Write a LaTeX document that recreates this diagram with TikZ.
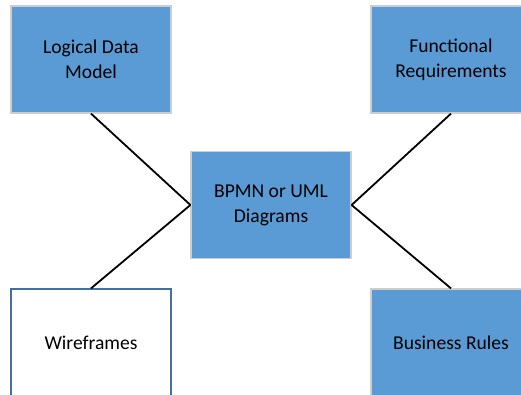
\documentclass[tikz,border=0pt]{standalone}
\usepackage{fontspec}
\setmainfont{Carlito}
\usepackage{tikz}
\usetikzlibrary{positioning}
\definecolor{officeblue}{RGB}{91, 155, 213}
\definecolor{steelblue}{RGB}{65, 113, 156}
\definecolor{rimgray}{RGB}{205, 205, 205}
\tikzset{
    topic/.style={draw=rimgray, line width=1.2pt, fill=officeblue, minimum width=160pt, minimum height=107pt,
                  inner sep=0pt, align=center, font=\fontsize{19.6}{25}\selectfont},
    plain/.style={topic, draw=steelblue, fill=white},
    link/.style={black, line width=1.8pt}
}

\begin{document}
\begin{tikzpicture}[x=1pt, y=-1pt]
            \useasboundingbox (0,0) rectangle (521,395);
            % the four topics round the centre
            \node[topic] (model)    at ( 91.0,  59.5) {Logical Data\\Model};
            \node[topic] (function) at (451.0,  59.5) {Functional\\Requirements};
            \node[plain] (wire)     at ( 91.0, 342.5) {Wireframes};
            \node[topic] (rules)    at (451.0, 342.5) {Business Rules};
            % centre
            \node[topic] (diagram)  at (271.0, 205.0) {BPMN or UML\\Diagrams};
            \draw[link] (model.south)    -- (diagram.west);
            \draw[link] (wire.north)     -- (diagram.west);
            \draw[link] (function.south) -- (diagram.east);
            \draw[link] (rules.north)    -- (diagram.east);
        \end{tikzpicture}
\end{document}
